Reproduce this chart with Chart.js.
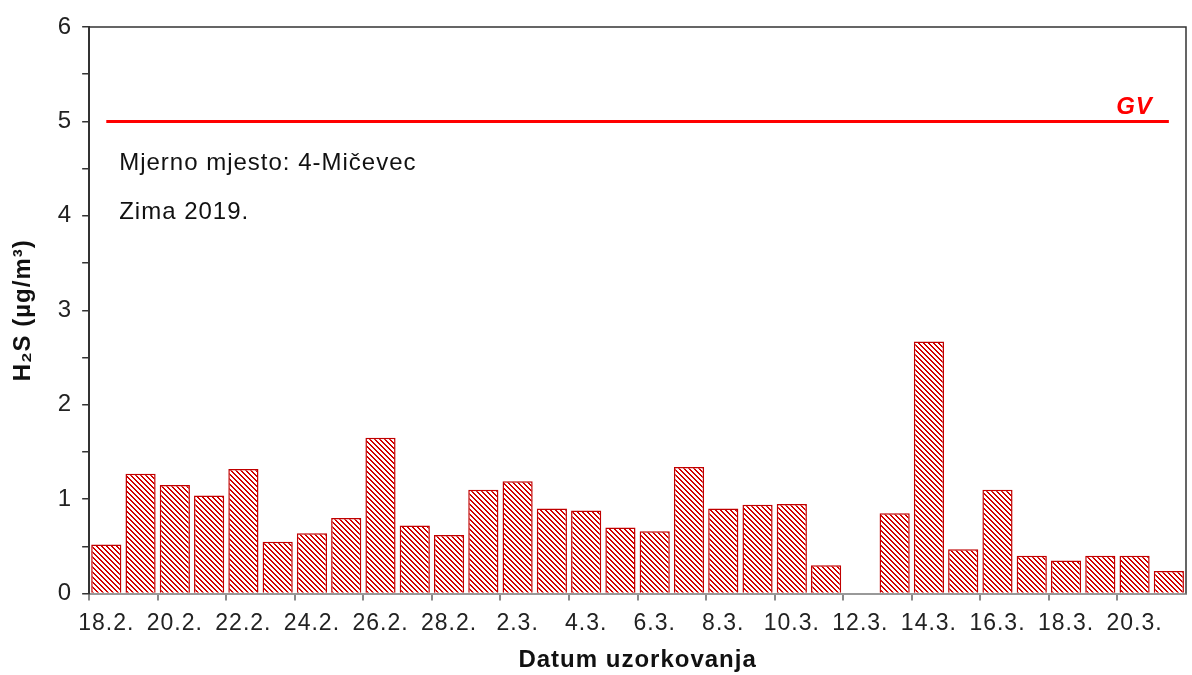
<!DOCTYPE html>
<html>
<head>
<meta charset="utf-8">
<script src="https://cdn.jsdelivr.net/npm/chart.js@4/dist/chart.umd.min.js"></script>
<style>
  html, body { margin: 0; padding: 0; background: #fff; }
  #wrap { width: 1192px; height: 675px; }
</style>
</head>
<body>
<div id="wrap"><canvas id="myChart" width="1192" height="675"></canvas></div>
<script>
// daily dates, winter 2019
var dates = ["18.2.","19.2.","20.2.","21.2.","22.2.","23.2.","24.2.","25.2.","26.2.","27.2.","28.2.",
  "1.3.","2.3.","3.3.","4.3.","5.3.","6.3.","7.3.","8.3.","9.3.","10.3.","11.3.","12.3.","13.3.",
  "14.3.","15.3.","16.3.","17.3.","18.3.","19.3.","20.3.","21.3."];
// H2S values (ug/m3), 12.3. missing
var h2s = [0.52,1.27,1.15,1.04,1.32,0.55,0.64,0.80,1.65,0.72,0.62,
  1.10,1.19,0.90,0.88,0.70,0.66,1.34,0.90,0.94,0.95,0.30,null,0.85,
  2.67,0.47,1.10,0.40,0.35,0.40,0.40,0.24];
var gvLimit = 5;
var gvLine = dates.map(function(){ return gvLimit; });
var yTicks = [0,1,2,3,4,5,6];
var noteLines = ["Mjerno mjesto: 4-Mičevec", "Zima 2019."];

var FONT = "'Liberation Sans', Arial, sans-serif";
var SPACING = "1px";

function makeHatch(){
  var s = 5;
  var c = document.createElement("canvas");
  c.width = s; c.height = s;
  var g = c.getContext("2d");
  var img = g.createImageData(s, s);
  for (var y = 0; y < s; y++){
    for (var x = 0; x < s; x++){
      var d = (((x - y) % s) + s) % s;
      var i = (y * s + x) * 4;
      if (d < 2){
        img.data[i] = 210; img.data[i+1] = 0; img.data[i+2] = 0;
      } else {
        img.data[i] = 255; img.data[i+1] = 255; img.data[i+2] = 255;
      }
      img.data[i+3] = 255;
    }
  }
  g.putImageData(img, 0, 0);
  return g.createPattern(c, "repeat");
}

// canvas resize resets the context, so set spacing again before layout and draw
var framePlugin = {
  id: "frame",
  beforeLayout: function(chart){ chart.ctx.letterSpacing = SPACING; },
  beforeDraw: function(chart){ chart.ctx.letterSpacing = SPACING; },
  afterDraw: function(chart){
    var ctx = chart.ctx, a = chart.chartArea;
    ctx.save();
    ctx.strokeStyle = "#333";
    ctx.lineWidth = 1.5;
    ctx.beginPath();
    ctx.moveTo(a.left, a.top);
    ctx.lineTo(a.right, a.top);
    ctx.lineTo(a.right, a.bottom);
    ctx.stroke();
    // notes
    ctx.letterSpacing = SPACING;
    ctx.fillStyle = "#111";
    ctx.font = "24px " + FONT;
    ctx.textBaseline = "middle";
    ctx.textAlign = "left";
    ctx.fillText(noteLines[0], a.left + 30, a.top + 136);
    ctx.fillText(noteLines[1], a.left + 30, a.top + 185);
    // GV label
    var ys = chart.scales.y, xs = chart.scales.x;
    ctx.fillStyle = "#ff0000";
    ctx.font = "italic bold 24px " + FONT;
    ctx.textAlign = "right";
    ctx.textBaseline = "bottom";
    ctx.fillText("GV", xs.getPixelForValue(dates.length - 1) - 16, ys.getPixelForValue(gvLimit) - 2);
    ctx.restore();
  }
};

var ctx = document.getElementById("myChart").getContext("2d");
var myChart = new Chart(ctx, {
  type: "bar",
  data: {
    labels: dates,
    datasets: [{
      type: "line",
      label: "GV",
      data: gvLine,
      borderColor: "#ff0000",
      borderWidth: 3,
      pointRadius: 0,
      fill: false,
      order: 0
    }, {
      label: "H2S",
      data: h2s,
      backgroundColor: makeHatch(),
      borderColor: "#c00000",
      borderWidth: 1.5,
      barPercentage: 0.88,
      categoryPercentage: 1,
      order: 1
    }]
  },
  options: {
    responsive: false,
    animation: false,
    layout: { padding: { top: 27, right: 6, left: 9, bottom: 0 } },
    plugins: { legend: { display: false }, tooltip: { enabled: false } },
    scales: {
      x: {
        grid: {
          offset: true,
          drawOnChartArea: false,
          drawTicks: true,
          tickLength: 7,
          color: function(c){ return c.index % 2 === 0 ? "#888" : "rgba(0,0,0,0)"; },
          lineWidth: 2
        },
        border: { color: "#999", width: 2 },
        ticks: {
          autoSkip: false,
          maxRotation: 0,
          color: "#222",
          padding: 9,
          font: { size: 23, family: FONT },
          callback: function(v, i){ return i % 2 === 0 ? dates[i] : ""; }
        },
        title: {
          display: true,
          text: "Datum uzorkovanja",
          color: "#111",
          padding: { top: 0, bottom: 0 },
          font: { size: 24, weight: "bold", family: FONT }
        }
      },
      y: {
        min: 0,
        max: 6,
        grid: {
          drawOnChartArea: false,
          drawTicks: true,
          tickLength: 7,
          color: "#333",
          lineWidth: 1.5
        },
        border: { color: "#333", width: 2 },
        ticks: {
          stepSize: 0.5,
          color: "#222",
          padding: 10,
          font: { size: 24, family: FONT },
          callback: function(v){ return yTicks.indexOf(v) >= 0 ? v : ""; }
        },
        title: {
          display: true,
          text: "H₂S (µg/m³)",
          color: "#111",
          padding: { top: 0, bottom: 10 },
          font: { size: 24, weight: "bold", family: FONT }
        }
      }
    }
  },
  plugins: [framePlugin]
});
</script>
</body>
</html>
